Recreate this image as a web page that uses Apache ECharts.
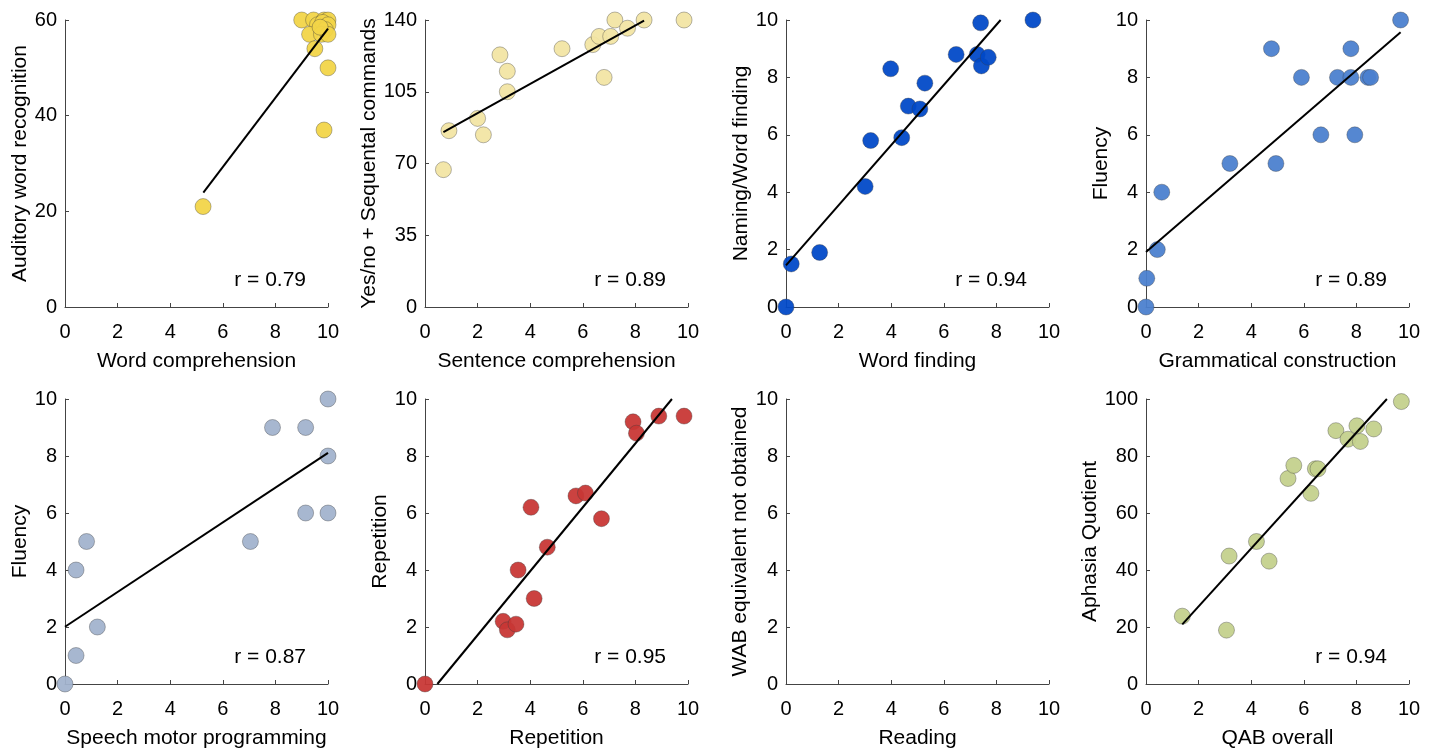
<!DOCTYPE html>
<html>
<head>
<meta charset="utf-8">
<script src="https://cdn.jsdelivr.net/npm/echarts@6/dist/echarts.min.js"></script>
<style>
html,body{margin:0;padding:0;background:#fff;}
#chart{width:1439px;height:750px;}
</style>
</head>
<body>
<div id="chart"></div>
<script>
// ---- Data ----
const xNames = ['Word comprehension','Sentence comprehension','Word finding','Grammatical construction',
                'Speech motor programming','Repetition','Reading','QAB overall'];
const yNames = ['Auditory word recognition','Yes/no + Sequental commands','Naming/Word finding','Fluency',
                'Fluency','Repetition','WAB equivalent not obtained','Aphasia Quotient'];
const yMaxes = [60, 140, 10, 10, 10, 10, 10, 100];
const yIntervals = [20, 35, 2, 2, 2, 2, 2, 20];
const rLabels = ['r = 0.79','r = 0.89','r = 0.94','r = 0.89','r = 0.87','r = 0.95','','r = 0.94'];
const colors = ['#F2D447','#F2E4A4','#0048C8','#4A80CE','#A2B2CD','#C83634','#cccccc','#C4D08C'];

const p1x = [5.25, 9.0, 9.45, 9.85, 10.0, 9.6, 9.8, 10.0, 9.9, 9.3, 9.75, 10.0, 9.5, 10.0, 9.85, 9.7];
const p1y = [21, 60, 60, 60, 60, 59, 59.5, 59, 58, 57, 57, 57, 54, 50, 37, 58.5];
const p1line = [[5.26, 23.9], [10.0, 58.2]];

const p2x = [0.70, 0.91, 2.0, 2.22, 2.85, 3.13, 3.13, 5.21, 6.38, 6.62, 6.81, 7.06, 7.22, 7.70, 8.33, 9.85];
const p2y = [67, 86, 92, 84, 123, 115, 105, 126, 128, 132, 112, 132, 140, 136, 140, 140];
const p2line = [[0.70, 85.3], [8.33, 139.7]];

const p3x = [0, 0.2, 1.28, 3.01, 3.22, 3.98, 4.40, 4.65, 5.09, 5.28, 6.47, 7.27, 7.40, 7.43, 7.69, 9.39];
const p3y = [0, 1.5, 1.9, 4.2, 5.8, 8.3, 5.9, 7.0, 6.9, 7.8, 8.8, 8.8, 9.9, 8.4, 8.7, 10];
const p3line = [[0, 1.45], [8.16, 10]];

const p4x = [0, 0.03, 0.43, 0.6, 3.19, 4.77, 4.94, 5.91, 6.65, 7.28, 7.79, 7.79, 7.94, 8.44, 8.54, 9.68];
const p4y = [0, 1, 2, 4, 5, 9, 5, 8, 6, 8, 9, 8, 6, 8, 8, 10];
const p4line = [[0, 1.92], [9.68, 9.57]];

const p5x = [0, 0.42, 0.42, 0.82, 1.23, 7.05, 7.89, 9.15, 9.15, 10, 10, 10];
const p5y = [0, 1, 4, 5, 2, 5, 9, 9, 6, 10, 8, 6];
const p5line = [[0, 2.01], [10, 8.11]];

const p6x = [0, 2.97, 3.13, 3.46, 3.54, 4.03, 4.15, 4.65, 5.74, 6.1, 6.71, 7.91, 8.04, 8.89, 9.85];
const p6y = [0, 2.2, 1.9, 2.1, 4.0, 6.2, 3.0, 4.8, 6.6, 6.7, 5.8, 9.2, 8.8, 9.4, 9.4];
const p6line = [[0.47, 0], [9.39, 10]];

const p7x = [];
const p7y = [];
const p7line = [];

const p8x = [1.38, 3.06, 3.16, 4.2, 4.68, 5.40, 5.62, 6.27, 6.44, 6.54, 7.22, 7.68, 8.02, 8.15, 8.66, 9.71];
const p8y = [23.8, 18.9, 44.9, 50.0, 43.1, 72.1, 76.7, 66.9, 75.5, 75.5, 88.9, 85.9, 90.6, 85.1, 89.5, 99.1];
const p8line = [[1.38, 20.9], [9.16, 100]];

const xsAll = [p1x,p2x,p3x,p4x,p5x,p6x,p7x,p8x];
const ysAll = [p1y,p2y,p3y,p4y,p5y,p6y,p7y,p8y];
const linesAll = [p1line,p2line,p3line,p4line,p5line,p6line,p7line,p8line];

// ---- Layout ----
const colLeft = [65, 425, 786, 1146];
const rowTop = [20, 399];
const W = 263, H = 287;
const yNameGaps = [34, 44, 33, 33, 34, 34, 35, 45];

const font = 'Liberation Sans, Arial, Helvetica, sans-serif';
const axisColor = '#444';
const tickFont = 20, nameFont = 21;

const grids = [], xAxes = [], yAxes = [], series = [];
for (let i = 0; i < 8; i++) {
  const r = Math.floor(i / 4), c = i % 4;
  grids.push({left: colLeft[c], top: rowTop[r], width: W, height: H, containLabel: false});
  xAxes.push({
    gridIndex: i, type: 'value', min: 0, max: 10, interval: 2,
    name: xNames[i], nameLocation: 'middle', nameGap: 44,
    nameTextStyle: {fontSize: nameFont, color: '#000', fontFamily: font},
    axisLine: {show: true, onZero: false, lineStyle: {color: axisColor, width: 1}},
    axisTick: {show: true, inside: true, length: 4, lineStyle: {color: axisColor}},
    axisLabel: {fontSize: tickFont, color: '#000', fontFamily: font, margin: 15},
    splitLine: {show: false}
  });
  yAxes.push({
    gridIndex: i, type: 'value', min: 0, max: yMaxes[i], interval: yIntervals[i],
    name: yNames[i], nameLocation: 'middle', nameGap: yNameGaps[i],
    nameTextStyle: {fontSize: nameFont, color: '#000', fontFamily: font},
    axisLine: {show: true, onZero: false, lineStyle: {color: axisColor, width: 1}},
    axisTick: {show: true, inside: true, length: 4, lineStyle: {color: axisColor}},
    axisLabel: {fontSize: tickFont, color: '#000', fontFamily: font, margin: 8},
    splitLine: {show: false}
  });
  const pts = xsAll[i].map((x, k) => [x, ysAll[i][k]]);
  series.push({
    type: 'scatter', xAxisIndex: i, yAxisIndex: i, data: pts, symbolSize: 16, clip: false,
    itemStyle: {color: colors[i], borderColor: 'rgba(60,60,60,0.65)', borderWidth: 0.6, opacity: 0.94},
    emphasis: {disabled: true}, silent: true, z: 2
  });
  if (linesAll[i].length) {
    series.push({
      type: 'line', xAxisIndex: i, yAxisIndex: i, data: linesAll[i], symbol: 'none',
      lineStyle: {color: '#000', width: 2}, silent: true, z: 3, clip: false
    });
  }
  if (rLabels[i]) {
    series.push({
      type: 'scatter', xAxisIndex: i, yAxisIndex: i,
      data: [[0.78 * 10, 0.094 * yMaxes[i]]], symbolSize: 1,
      itemStyle: {color: 'rgba(0,0,0,0)'}, silent: true, z: 4,
      label: {show: true, position: 'inside', formatter: rLabels[i], fontSize: nameFont, color: '#000', opacity: 1, fontFamily: font}
    });
  }
}

const chart = echarts.init(document.getElementById('chart'), null, {renderer: 'canvas'});
chart.setOption({
  animation: false,
  backgroundColor: '#fff',
  grid: grids, xAxis: xAxes, yAxis: yAxes, series: series
});
</script>
</body>
</html>
